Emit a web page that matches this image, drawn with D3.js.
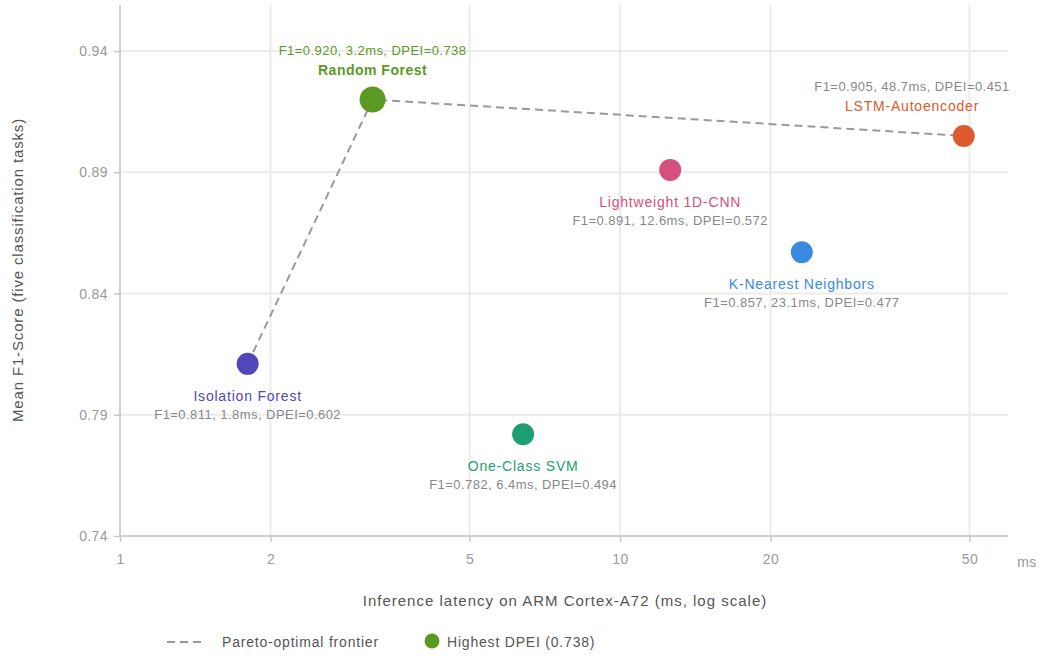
<!DOCTYPE html>
<html>
<head>
<meta charset="utf-8">
<script src="https://cdn.jsdelivr.net/npm/d3@7"></script>
<style>
  body { margin: 0; background: #fff; }
  text { font-family: "Liberation Sans", Arial, sans-serif; }
</style>
</head>
<body>
<div id="viz"></div>
<script>
const models = ['Isolation Forest', 'Random Forest', 'One-Class SVM', 'Lightweight 1D-CNN', 'K-Nearest Neighbors', 'LSTM-Autoencoder'],
    latency = [1.8, 3.2, 6.4, 12.6, 23.1, 48.7],
    f1 = [0.811, 0.920, 0.782, 0.891, 0.857, 0.905],
    dpei = [0.602, 0.738, 0.494, 0.572, 0.477, 0.451],
    colors = ['#5147b8', '#5b9a22', '#1e9e73', '#d4507d', '#3a89e0', '#dc5a2e'],
    pareto = ['Isolation Forest', 'Random Forest', 'LSTM-Autoencoder'],
    xTicks = [1, 2, 5, 10, 20, 50],
    yTicks = [0.74, 0.79, 0.84, 0.89, 0.94];

const svg = d3.select('#viz')
    .append('svg')
    .attr('width', 1040)
    .attr('height', 657);

const margin = {top: 5, right: 32, bottom: 121, left: 120},
    width = 1040 - margin.left - margin.right,
    height = 657 - margin.top - margin.bottom;

const x = d3.scaleLog()
    .domain([1, 59.7])
    .range([0, width]);

const y = d3.scaleLinear()
    .domain([0.74, 0.959])
    .range([height, 0]);

const g = svg.append('g')
    .attr('transform', 'translate(' + margin.left + ',' + margin.top + ')');

// grid
g.append('g').selectAll('line')
    .data(yTicks.slice(1))
    .enter().append('line')
    .attr('x1', 0).attr('x2', width)
    .attr('y1', d => y(d)).attr('y2', d => y(d))
    .attr('stroke', '#ebebeb').attr('stroke-width', 2);

g.append('g').selectAll('line')
    .data(xTicks.slice(1))
    .enter().append('line')
    .attr('x1', d => x(d)).attr('x2', d => x(d))
    .attr('y1', 0).attr('y2', height)
    .attr('stroke', '#ebebeb').attr('stroke-width', 2);

// axes
const xAxis = g.append('g')
    .attr('transform', 'translate(0,' + height + ')')
    .call(d3.axisBottom(x).tickValues(xTicks).tickFormat(d3.format('d')).tickSize(6).tickPadding(12));

const yAxis = g.append('g')
    .call(d3.axisLeft(y).tickValues(yTicks).tickFormat(d3.format('.2f')).tickSize(6).tickPadding(6));

[xAxis, yAxis].forEach(a => {
    a.select('.domain').attr('stroke', '#d0d0d0').attr('stroke-width', 2);
    a.selectAll('.tick line').attr('stroke', '#c8c8c8').attr('stroke-width', 1.5);
    a.selectAll('.tick text').attr('fill', '#999').style('font-size', '14px').style('letter-spacing', '0.4px');
});
yAxis.select('.domain').attr('d', 'M0,0V' + height);
xAxis.select('.domain').attr('d', 'M0,0H' + width);

g.append('text')
    .attr('x', width + 19)
    .attr('y', height + 31)
    .attr('text-anchor', 'middle')
    .attr('fill', '#999')
    .style('font-size', '14px')
    .style('letter-spacing', '0.4px')
    .text('ms');

// axis titles
svg.append('text')
    .attr('x', 565)
    .attr('y', 606)
    .attr('text-anchor', 'middle')
    .attr('fill', '#555')
    .style('font-size', '15px')
    .style('letter-spacing', '1px')
    .text('Inference latency on ARM Cortex-A72 (ms, log scale)');

svg.append('text')
    .attr('transform', 'translate(23,270) rotate(-90)')
    .attr('text-anchor', 'middle')
    .attr('fill', '#555')
    .style('font-size', '15px')
    .style('letter-spacing', '0.85px')
    .text('Mean F1-Score (five classification tasks)');

// pareto frontier
const idx = pareto.map(p => models.indexOf(p));
g.append('path')
    .datum(idx)
    .attr('fill', 'none')
    .attr('stroke', '#999')
    .attr('stroke-width', 2)
    .attr('stroke-dasharray', '8,5')
    .attr('d', d3.line().x(i => x(latency[i])).y(i => y(f1[i])));

// points
const best = d3.maxIndex(dpei);
g.append('g').selectAll('circle')
    .data(models)
    .enter().append('circle')
    .attr('cx', (d, i) => x(latency[i]))
    .attr('cy', (d, i) => y(f1[i]))
    .attr('r', (d, i) => i === best ? 13 : 11)
    .attr('fill', (d, i) => colors[i]);

// labels
const above = ['Random Forest', 'LSTM-Autoencoder'];
const labels = g.append('g').selectAll('g')
    .data(models)
    .enter().append('g')
    .attr('transform', (d, i) => {
        let lx = x(latency[i]);
        if (lx > width - 80) lx = width - 96;
        return 'translate(' + lx + ',' + y(f1[i]) + ')';
    });

labels.append('text')
    .attr('text-anchor', 'middle')
    .attr('y', d => above.includes(d) ? -25 : 37)
    .attr('fill', (d, i) => colors[i])
    .style('font-size', '14px')
    .style('letter-spacing', (d, i) => i === best ? '0.5px' : '0.8px')
    .style('font-weight', (d, i) => i === best ? 'bold' : 'normal')
    .text(d => d);

labels.append('text')
    .attr('text-anchor', 'middle')
    .attr('y', d => above.includes(d) ? -45 : 55)
    .attr('fill', (d, i) => i === best ? colors[i] : '#888')
    .style('font-size', '13px')
    .style('letter-spacing', '0.45px')
    .text((d, i) => 'F1=' + f1[i].toFixed(3) + ', ' + latency[i] + 'ms, DPEI=' + dpei[i].toFixed(3));

// legend
const legend = svg.append('g').attr('transform', 'translate(0,642)');
legend.append('line')
    .attr('x1', 167).attr('x2', 205)
    .attr('stroke', '#999').attr('stroke-width', 2)
    .attr('stroke-dasharray', '8,5');
legend.append('text')
    .attr('x', 222).attr('y', 5)
    .attr('fill', '#555')
    .style('font-size', '14px')
    .style('letter-spacing', '0.8px')
    .text('Pareto-optimal frontier');
legend.append('circle')
    .attr('cx', 432).attr('cy', -1).attr('r', 7.5)
    .attr('fill', colors[best]);
legend.append('text')
    .attr('x', 447).attr('y', 5)
    .attr('fill', '#555')
    .style('font-size', '14px')
    .style('letter-spacing', '0.8px')
    .text('Highest DPEI (' + dpei[best].toFixed(3) + ')');
</script>
</body>
</html>
